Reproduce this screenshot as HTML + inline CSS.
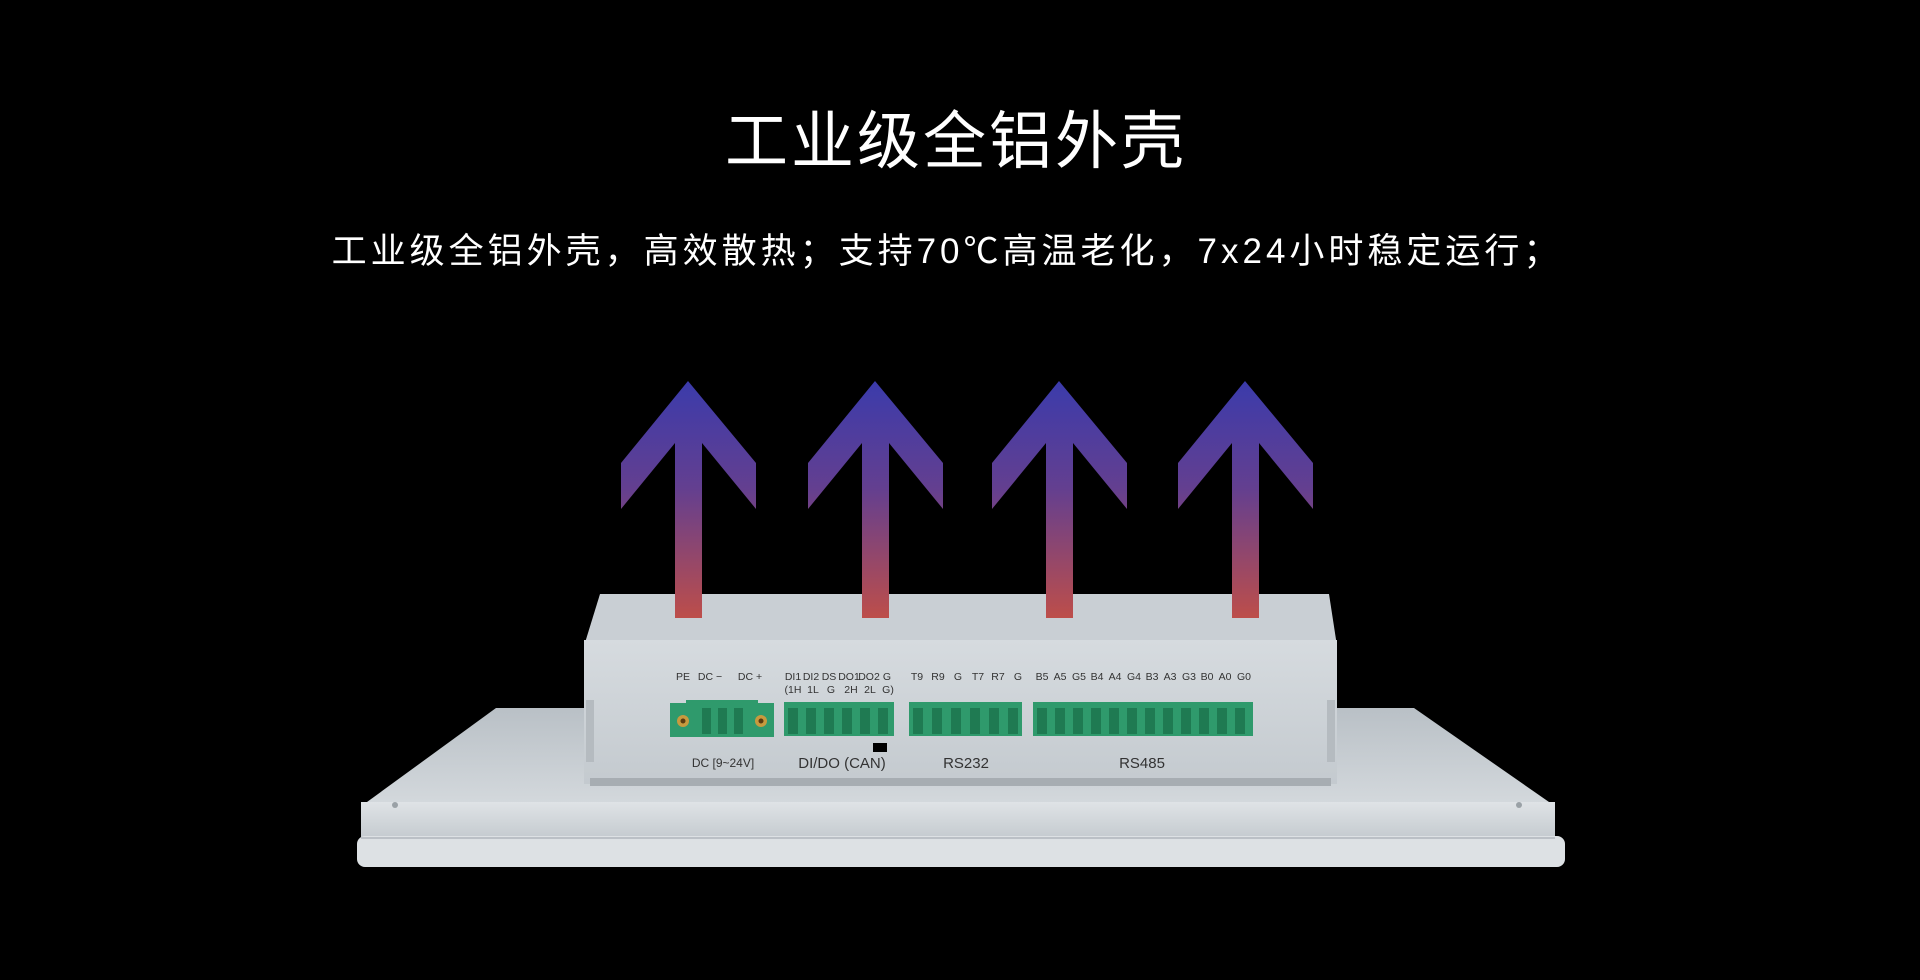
<!DOCTYPE html>
<html><head><meta charset="utf-8"><style>
html,body{margin:0;padding:0;background:#000;width:1920px;height:980px;overflow:hidden}
svg{display:block}
</style></head><body>
<svg width="1920" height="980" viewBox="0 0 1920 980" xmlns="http://www.w3.org/2000/svg">
<defs>
<linearGradient id="ar" x1="0" y1="0" x2="0" y2="1">
<stop offset="0" stop-color="#3b3bab"/><stop offset="0.45" stop-color="#633f90"/><stop offset="1" stop-color="#bd4e4a"/>
</linearGradient>
<linearGradient id="pt" x1="0" y1="0" x2="0" y2="1">
<stop offset="0" stop-color="#b9c0c6"/><stop offset="1" stop-color="#d3d8dc"/>
</linearGradient>
<linearGradient id="bf" x1="0" y1="0" x2="0" y2="1">
<stop offset="0" stop-color="#d6dbdf"/><stop offset="1" stop-color="#c4cacf"/>
</linearGradient>
<linearGradient id="fe" x1="0" y1="0" x2="0" y2="1">
<stop offset="0" stop-color="#dfe3e6"/><stop offset="1" stop-color="#c2c8cd"/>
</linearGradient>
</defs>
<text x="956" y="163" text-anchor="middle" fill="#fff" font-family="Liberation Sans, Noto Sans CJK SC, sans-serif" font-size="63" letter-spacing="3">工业级全铝外壳</text>
<text x="947" y="263" text-anchor="middle" fill="#fff" font-family="Liberation Sans, Noto Sans CJK SC, sans-serif" font-size="35" letter-spacing="4">工业级全铝外壳，高效散热；支持70℃高温老化，7x24小时稳定运行；</text>

<!-- panel -->
<polygon points="496,708 1414,708 1549,802 367,802" fill="url(#pt)"/>
<rect x="361" y="802" width="1194" height="40" fill="url(#fe)"/>
<rect x="357" y="836" width="1208" height="31" rx="8" fill="#dde1e4"/>
<line x1="361" y1="838" x2="1555" y2="838" stroke="#b0b6bb" stroke-width="1.5"/>
<circle cx="395" cy="805" r="3" fill="#9aa1a6"/><circle cx="1519" cy="805" r="3" fill="#9aa1a6"/>

<!-- box -->
<polygon points="600,594 1329,594 1337,646 584,646" fill="#c9cfd4"/>
<rect x="584" y="640" width="753" height="144" fill="url(#bf)"/>
<rect x="590" y="778" width="741" height="8" fill="#a7adb2"/>
<rect x="586" y="700" width="8" height="62" fill="#b5bbc0"/>
<rect x="1327" y="700" width="8" height="62" fill="#b5bbc0"/>

<!-- connectors -->
<g>
<rect x="670" y="703" width="104" height="34" fill="#2f9a6c"/>
<rect x="686" y="700" width="72" height="6" fill="#2f9a6c"/>
<circle cx="683" cy="721" r="6" fill="#c79a3e"/><circle cx="761" cy="721" r="6" fill="#c79a3e"/>
<circle cx="683" cy="721" r="2.5" fill="#5a3b10"/><circle cx="761" cy="721" r="2.5" fill="#5a3b10"/>
<rect x="784" y="702" width="110" height="34" fill="#2f9a6c"/>
<rect x="909" y="702" width="113" height="34" fill="#2f9a6c"/>
<rect x="1033" y="702" width="220" height="34" fill="#2f9a6c"/>
</g>
<g fill="#1f7a52">
<rect x="702" y="708" width="9" height="26"/><rect x="718" y="708" width="9" height="26"/><rect x="734" y="708" width="9" height="26"/>
<rect x="788" y="708" width="10" height="26"/><rect x="806" y="708" width="10" height="26"/><rect x="824" y="708" width="10" height="26"/><rect x="842" y="708" width="10" height="26"/><rect x="860" y="708" width="10" height="26"/><rect x="878" y="708" width="10" height="26"/>
<rect x="913" y="708" width="10" height="26"/><rect x="932" y="708" width="10" height="26"/><rect x="951" y="708" width="10" height="26"/><rect x="970" y="708" width="10" height="26"/><rect x="989" y="708" width="10" height="26"/><rect x="1008" y="708" width="10" height="26"/>
<rect x="1037" y="708" width="10" height="26"/><rect x="1055" y="708" width="10" height="26"/><rect x="1073" y="708" width="10" height="26"/><rect x="1091" y="708" width="10" height="26"/><rect x="1109" y="708" width="10" height="26"/><rect x="1127" y="708" width="10" height="26"/><rect x="1145" y="708" width="10" height="26"/><rect x="1163" y="708" width="10" height="26"/><rect x="1181" y="708" width="10" height="26"/><rect x="1199" y="708" width="10" height="26"/><rect x="1217" y="708" width="10" height="26"/><rect x="1235" y="708" width="10" height="26"/>
</g>
<rect x="873" y="743" width="14" height="9" fill="#000"/>

<g font-family="Liberation Sans, sans-serif" font-size="10.5" fill="#333" text-anchor="middle">
<text x="683" y="680">PE</text><text x="710" y="680">DC  −</text><text x="750" y="680">DC  +</text>
<text x="793" y="680">DI1</text><text x="811" y="680">DI2</text><text x="829" y="680">DS</text><text x="849" y="680">DO1</text><text x="869" y="680">DO2</text><text x="887" y="680">G</text>
<text x="793" y="693">(1H</text><text x="813" y="693">1L</text><text x="831" y="693">G</text><text x="851" y="693">2H</text><text x="870" y="693">2L</text><text x="888" y="693">G)</text>
<text x="917" y="680">T9</text><text x="938" y="680">R9</text><text x="958" y="680">G</text><text x="978" y="680">T7</text><text x="998" y="680">R7</text><text x="1018" y="680">G</text>
<text x="1042" y="680">B5</text><text x="1060" y="680">A5</text><text x="1079" y="680">G5</text><text x="1097" y="680">B4</text><text x="1115" y="680">A4</text><text x="1134" y="680">G4</text><text x="1152" y="680">B3</text><text x="1170" y="680">A3</text><text x="1189" y="680">G3</text><text x="1207" y="680">B0</text><text x="1225" y="680">A0</text><text x="1244" y="680">G0</text>
</g>
<g font-family="Liberation Sans, sans-serif" fill="#333" text-anchor="middle">
<text x="723" y="767" font-size="12">DC [9~24V]</text>
<text x="842" y="768" font-size="15">DI/DO (CAN)</text>
<text x="966" y="768" font-size="15">RS232</text>
<text x="1142" y="768" font-size="15">RS485</text>
</g>

<!-- arrows -->
<g fill="url(#ar)">
<polygon points="688,381 756,463 756,509 702,443 702,618 675,618 675,443 621,509 621,463"/>
<polygon points="875,381 943,463 943,509 889,443 889,618 862,618 862,443 808,509 808,463"/>
<polygon points="1059,381 1127,463 1127,509 1073,443 1073,618 1046,618 1046,443 992,509 992,463"/>
<polygon points="1245,381 1313,463 1313,509 1259,443 1259,618 1232,618 1232,443 1178,509 1178,463"/>
</g>
</svg>
</body></html>
